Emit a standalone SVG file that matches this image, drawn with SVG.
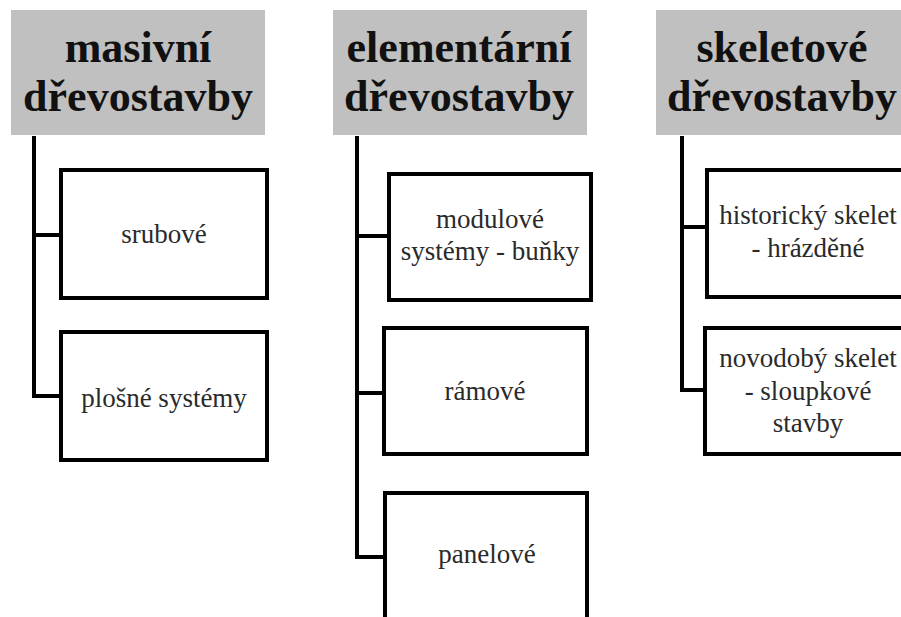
<svg xmlns="http://www.w3.org/2000/svg" width="901" height="617" viewBox="0 0 901 617">
  <style>
    .head rect { fill: #c0c0c0; }
    .head text { font-family: 'Liberation Serif', 'DejaVu Serif', serif; font-weight: bold; font-size: 44px; fill: #111; text-anchor: middle; }
    .item rect { fill: #fff; stroke: #000; stroke-width: 4; }
    .item text { font-family: 'Liberation Serif', 'DejaVu Serif', serif; font-size: 27px; fill: #2a2a2a; text-anchor: middle; }
    .links path { fill: none; stroke: #000; stroke-width: 4; stroke-linejoin: miter; }
  </style>
  <rect width="901" height="617" fill="#fff"/>

  <!-- tree connectors -->
  <g id="connectors" class="links">
    <path d="M34 136 V396 H61 M34 235 H61"/>
    <path d="M357 136 V557 H385 M357 236 H389 M357 393 H384"/>
    <path d="M682 136 V390 H705 M682 227 H707"/>
  </g>

  <!-- column 1 -->
  <g id="masivni" class="head">
    <rect x="11" y="10" width="254" height="125"/>
    <text x="138" y="62">masivní</text>
    <text x="138" y="111">dřevostavby</text>
  </g>
  <g id="srubove" class="item">
    <rect x="61" y="170" width="206" height="128"/>
    <text x="164" y="243">srubové</text>
  </g>
  <g id="plosne" class="item">
    <rect x="61" y="332" width="206" height="128"/>
    <text x="164" y="407">plošné systémy</text>
  </g>

  <!-- column 2 -->
  <g id="elementarni" class="head">
    <rect x="333" y="10" width="254" height="125"/>
    <text x="459" y="62">elementární</text>
    <text x="459" y="111">dřevostavby</text>
  </g>
  <g id="modulove" class="item">
    <rect x="389" y="174" width="202" height="126"/>
    <text x="490" y="228">modulové</text>
    <text x="490" y="260">systémy - buňky</text>
  </g>
  <g id="ramove" class="item">
    <rect x="384" y="328" width="203" height="126"/>
    <text x="485" y="400">rámové</text>
  </g>
  <g id="panelove" class="item">
    <rect x="385" y="493" width="202" height="140"/>
    <text x="487" y="563">panelové</text>
  </g>

  <!-- column 3 -->
  <g id="skeletove" class="head">
    <rect x="656" y="10" width="252" height="125"/>
    <text x="782" y="62">skeletové</text>
    <text x="782" y="111">dřevostavby</text>
  </g>
  <g id="historicky" class="item">
    <rect x="707" y="170" width="204" height="127"/>
    <text x="808" y="224">historický skelet</text>
    <text x="808" y="257">- hrázděné</text>
  </g>
  <g id="novodoby" class="item">
    <rect x="705" y="328" width="206" height="126"/>
    <text x="808" y="367">novodobý skelet</text>
    <text x="808" y="400">- sloupkové</text>
    <text x="808" y="432">stavby</text>
  </g>
</svg>
